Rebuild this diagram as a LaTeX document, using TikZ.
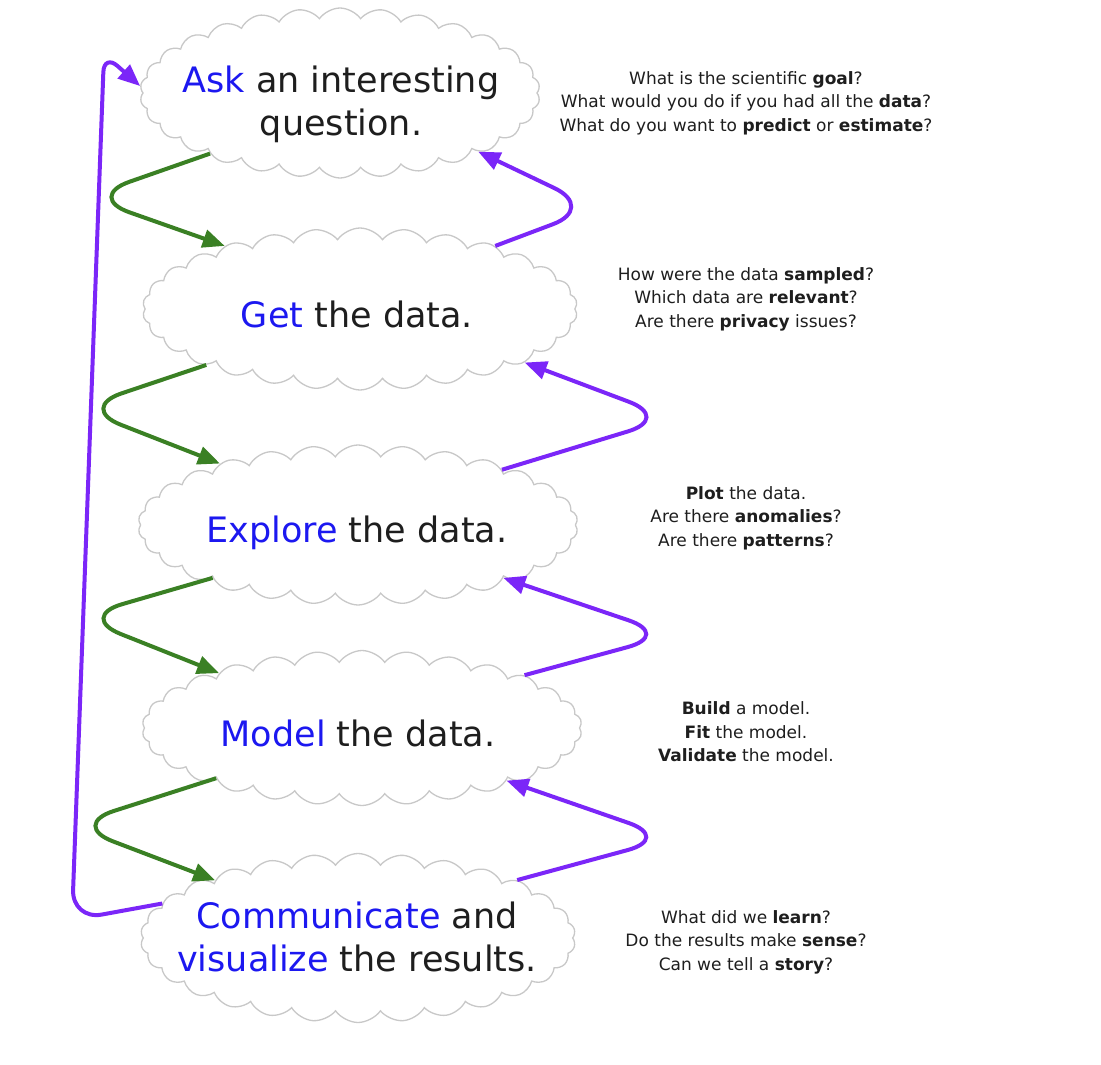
\documentclass[tikz,border=0pt]{standalone}
\usepackage{fontspec}
\setmainfont{DejaVu Sans}
\usetikzlibrary{shapes.symbols,arrows.meta}
\definecolor{arrgreen}{RGB}{58,128,36}
\definecolor{arrpurple}{RGB}{123,38,248}
\definecolor{kwblue}{RGB}{28,24,240}
\definecolor{txt}{RGB}{30,30,30}
\definecolor{cloudline}{RGB}{200,200,200}
\begin{document}
\begin{tikzpicture}[x=1pt,y=-1pt,
  stepcloud/.style={cloud, cloud puffs=30, cloud puff arc=110, cloud ignores aspect,
    draw=cloudline, line width=1.3pt, fill=white, inner sep=0pt},
  maintext/.style={font=\fontsize{35}{43}\selectfont, text=txt, align=center, inner sep=0pt},
  note/.style={font=\fontsize{17}{23.5}\selectfont, text=txt, align=center, inner sep=0pt},
  fwd/.style={draw=arrgreen, line width=4pt, rounded corners=46pt,
    -{Triangle[length=22pt,width=18pt]}},
  back/.style={draw=arrpurple, line width=4pt, rounded corners=46pt,
    -{Triangle[length=22pt,width=18pt]}}
]
\useasboundingbox[fill=white] (0,0) rectangle (1101,1065);

% clouds
\node[stepcloud, minimum width=400pt, minimum height=170pt] (ask) at (340,93) {};
\node[stepcloud, minimum width=435pt, minimum height=162pt] (get) at (360,309) {};
\node[stepcloud, minimum width=440pt, minimum height=160pt] (explore) at (358,525) {};
\node[stepcloud, minimum width=440pt, minimum height=155pt] (model) at (362,728) {};
\node[stepcloud, minimum width=435pt, minimum height=169pt] (comm) at (358,938) {};

% cloud texts
\node[maintext] (t1) at (341,104) {{\color{kwblue}Ask} an interesting\\question.};
\node[maintext, anchor=base] (t2) at (357,327) {{\color{kwblue}Get} the data.};
\node[maintext, anchor=base] (t3) at (357,542) {{\color{kwblue}Explore} the data.};
\node[maintext, anchor=base] (t4) at (358,746) {{\color{kwblue}Model} the data.};
\node[maintext] (t5) at (357,937) {{\color{kwblue}Communicate} and\\{\color{kwblue}visualize} the results.};

% notes
\node[note] (n1) at (746,103) {What is the scientific \textbf{goal}?\\What would you do if you had all the \textbf{data}?\\What do you want to \textbf{predict} or \textbf{estimate}?};
\node[note] (n2) at (746,299) {How were the data \textbf{sampled}?\\Which data are \textbf{relevant}?\\Are there \textbf{privacy} issues?};
\node[note] (n3) at (746,518) {\textbf{Plot} the data.\\Are there \textbf{anomalies}?\\Are there \textbf{patterns}?};
\node[note] (n4) at (746,732) {\textbf{Build} a model.\\\textbf{Fit} the model.\\\textbf{Validate} the model.};
\node[note] (n5) at (746,942) {What did we \textbf{learn}?\\Do the results make \textbf{sense}?\\Can we tell a \textbf{story}?};

% forward (green) arrows
\draw[fwd] (ask.205) -- (86,197) -- (get.155);
\draw[fwd] (get.200) -- (78,408) -- (explore.156);
\draw[fwd] (explore.200) -- (78,617) -- (model.159);
\draw[fwd] (model.199) -- (70,825) -- (comm.158);

% backward (purple) arrows
\draw[back] (get.25) -- (596,208) -- (ask.337);
\draw[back] (explore.21) -- (672,418) -- (get.342);
\draw[back] (model.18) -- (672,635) -- (explore.340);
\draw[back] (comm.20) -- (672,838) -- (model.340);

% big loop back
\draw[back, rounded corners=30pt] (comm.170) -- (72,920) [rounded corners=18pt] -- (104,54) -- (ask.178);
\end{tikzpicture}
\end{document}
